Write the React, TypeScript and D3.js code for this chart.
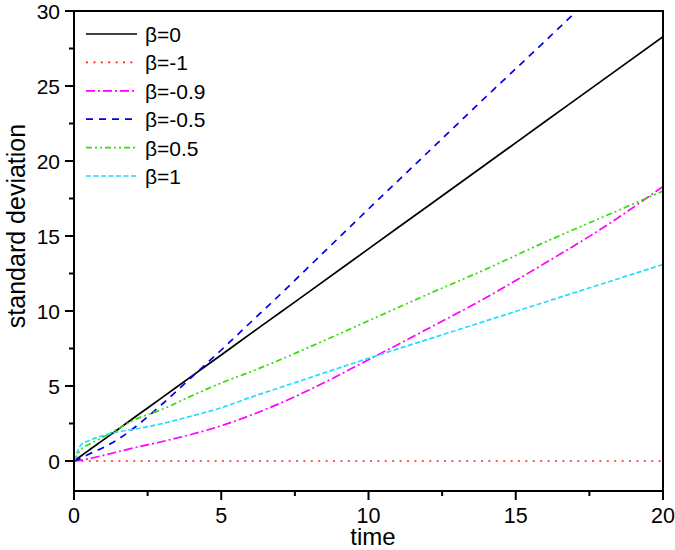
import React from "react";
import * as d3 from "d3";

const times = [0, 0.25, 0.5, 1, 1.5, 2, 3, 4, 5, 6, 7, 8, 10, 12, 14, 16, 18, 20];
const beta0 = [0, 0.35, 0.71, 1.41, 2.12, 2.83, 4.24, 5.66, 7.07, 8.49, 9.9, 11.31, 14.14, 16.97, 19.8, 22.63, 25.46, 28.28];
const betaM1 = [0, 0, 0, 0, 0, 0, 0, 0, 0, 0, 0, 0, 0, 0, 0, 0, 0, 0];
const betaM09 = [0, 0.06, 0.15, 0.38, 0.62, 0.86, 1.3, 1.78, 2.35, 3.05, 3.85, 4.75, 6.75, 8.8, 10.9, 13.2, 15.6, 18.3];
const betaM05 = [0, 0.2, 0.45, 0.9, 1.45, 2.15, 3.8, 5.6, 7.4, 9.25, 11.1, 13.0, 16.8, 20.55, 24.3, 28.0, 31.75, 35.5];
const beta05 = [0, 0.8, 1.1, 1.6, 2.15, 2.7, 3.45, 4.35, 5.2, 5.95, 6.75, 7.6, 9.35, 11.1, 12.8, 14.6, 16.3, 18.0];
const beta1 = [0, 1.1, 1.35, 1.7, 1.95, 2.1, 2.5, 3.0, 3.55, 4.25, 4.9, 5.55, 6.85, 8.1, 9.35, 10.6, 11.85, 13.1];

const seriesNames = ["β=0", "β=-1", "β=-0.9", "β=-0.5", "β=0.5", "β=1"];
const seriesValues = [beta0, betaM1, betaM09, betaM05, beta05, beta1];
const seriesColors = ["#000000", "#ff2020", "#ff00ff", "#0000ee", "#33dd00", "#22ddff"];
const seriesDash = ["none", "2,5.4", "9,3,2,3", "7,6", "6,3,2,3,2,3", "5,2.5"];

const xMajor = [0, 5, 10, 15, 20];
const xMinor = [2.5, 7.5, 12.5, 17.5];
const yMajor = [0, 5, 10, 15, 20, 25, 30];
const yMinor = [2.5, 7.5, 12.5, 17.5, 22.5, 27.5];

export default function App() {
  const x = d3.scaleLinear().domain([0, 20]).range([74, 663]);
  const y = d3.scaleLinear().domain([-2, 30]).range([491, 11]);
  const line = d3
    .line<number>()
    .x((_, i) => x(times[i]))
    .y((v) => y(v))
    .curve(d3.curveMonotoneX);
  const font = "'Liberation Sans', Arial, sans-serif";
  const [x0, x1] = x.range();
  const [yb, yt] = y.range();

  return (
    <svg
      width={675}
      height={550}
      style={{ position: "absolute", left: 0, top: 0, background: "#fff" }}
      fontFamily={font}
    >
      <defs>
        <clipPath id="plot">
          <rect x={x0} y={yt} width={x1 - x0} height={yb - yt} />
        </clipPath>
      </defs>
      <g clipPath="url(#plot)">
        {seriesValues.map((vals, i) => (
          <path
            key={i}
            d={line(vals) || ""}
            fill="none"
            stroke={seriesColors[i]}
            strokeWidth={1.7}
            strokeDasharray={seriesDash[i]}
          />
        ))}
      </g>
      {/* frame */}
      <rect x={x0} y={yt} width={x1 - x0} height={yb - yt} fill="none" stroke="#000" strokeWidth={2} />
      {/* x ticks */}
      {xMajor.map((t) => (
        <g key={"xm" + t}>
          <line x1={x(t)} x2={x(t)} y1={yb} y2={yb + 9} stroke="#000" strokeWidth={2} />
          <text x={x(t)} y={yb + 32} fontSize={21.5} textAnchor="middle">
            {t}
          </text>
        </g>
      ))}
      {xMinor.map((t) => (
        <line key={"xn" + t} x1={x(t)} x2={x(t)} y1={yb} y2={yb + 5} stroke="#000" strokeWidth={2} />
      ))}
      {/* y ticks */}
      {yMajor.map((t) => (
        <g key={"ym" + t}>
          <line x1={x0 - 9} x2={x0} y1={y(t)} y2={y(t)} stroke="#000" strokeWidth={2} />
          <text x={x0 - 14} y={y(t) + 7.5} fontSize={21} textAnchor="end">
            {t}
          </text>
        </g>
      ))}
      {yMinor.map((t) => (
        <line key={"yn" + t} x1={x0 - 5} x2={x0} y1={y(t)} y2={y(t)} stroke="#000" strokeWidth={2} />
      ))}
      {/* axis titles */}
      <text x={373} y={545} fontSize={24} textAnchor="middle">
        time
      </text>
      <text
        transform={`translate(25,226) rotate(-90)`}
        fontSize={25}
        textAnchor="middle"
      >
        standard deviation
      </text>
      {/* legend */}
      {seriesNames.map((name, i) => {
        const ly = 34 + i * 28.4;
        return (
          <g key={"lg" + i}>
            <line
              x1={86}
              x2={137}
              y1={ly}
              y2={ly}
              stroke={seriesColors[i]}
              strokeWidth={1.7}
              strokeDasharray={seriesDash[i]}
            />
            <text x={145} y={ly + 8} fontSize={21}>
              {name}
            </text>
          </g>
        );
      })}
    </svg>
  );
}
